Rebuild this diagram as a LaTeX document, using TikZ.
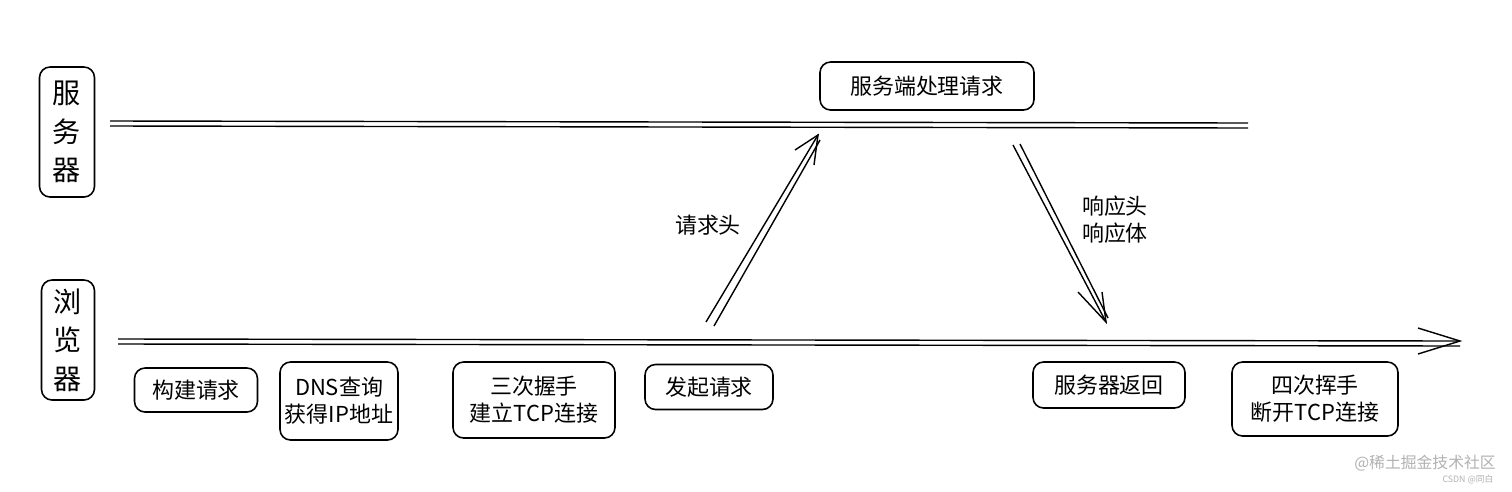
\documentclass[tikz,border=0pt]{standalone}
\usepackage{fontspec}
\setmainfont{Noto Sans CJK SC}
\usetikzlibrary{arrows.meta}
\begin{document}
\begin{tikzpicture}[x=0.02cm,y=-0.02cm,
  box/.style={draw,line width=0.9pt,rounded corners=6pt,align=center,inner sep=0pt,font=\fontsize{12.5}{15.5}\selectfont},
  lab/.style={align=left,font=\fontsize{12.5}{15.5}\selectfont},
  ln/.style={line width=0.8pt}]
\fill[white] (0,0) rectangle (1512,491);
\useasboundingbox (0,0) rectangle (1512,491);
% side boxes
\node[box,minimum width=55*0.02cm,minimum height=130*0.02cm,font=\fontsize{16}{22}\selectfont] (srv) at (67,132) {服\\务\\器};
\node[box,minimum width=53*0.02cm,minimum height=120*0.02cm,font=\fontsize{16}{22}\selectfont] (brw) at (68,340) {浏\\览\\器};
% timelines
\coordinate (s1) at (110,121); \coordinate (s2) at (1248,123);
\draw[ln] (s1) -- (s2);
\draw[ln] ([yshift=5*-0.02cm]s1) -- ([yshift=5*-0.02cm]s2);
\coordinate (b1) at (118,339); \coordinate (b2) at (1460,341);
\draw[ln] (b1) -- (b2);
\draw[ln] ([yshift=5*-0.02cm]b1) -- ([yshift=5*-0.02cm]b2);
\draw[ln] (1418,328) -- (b2) -- (1418,354);
% server box
\node[box,minimum width=214*0.02cm,minimum height=48*0.02cm] (proc) at (927,86) {服务端处理请求};
% request arrow
\coordinate (r1) at (706,322); \coordinate (r2) at (818,135);
\draw[ln] (r1) -- (r2); \draw[ln] (714,326) -- (820,140);
\draw[ln] (795,150) -- (r2) -- (814,165);
\node[lab] (rq) at (708,225) {请求头};
% response arrow
\coordinate (p1) at (1013,145); \coordinate (p2) at (1106,322);
\draw[ln] (p1) -- (p2); \draw[ln] (1020,144) -- (1108,318);
\draw[ln] (1078,292) -- (p2) -- (1102,292);
\node[lab] (rs) at (1115,220) {响应头\\响应体};
% bottom boxes
\node[box,minimum width=123*0.02cm,minimum height=44*0.02cm] (n1) at (196,390) {构建请求};
\node[box,minimum width=118*0.02cm,minimum height=78*0.02cm] (n2) at (339,401) {DNS查询\\获得IP地址};
\node[box,minimum width=162*0.02cm,minimum height=76*0.02cm] (n3) at (534,400) {三次握手\\建立TCP连接};
\node[box,minimum width=128*0.02cm,minimum height=45*0.02cm] (n4) at (709,387) {发起请求};
\node[box,minimum width=152*0.02cm,minimum height=46*0.02cm] (n5) at (1109,385) {服务器返回};
\node[box,minimum width=166*0.02cm,minimum height=74*0.02cm] (n6) at (1315,399) {四次挥手\\断开TCP连接};
% watermark
\node[text=gray!60,font=\fontsize{9}{10}\selectfont] (wm) at (1425,463) {@稀土掘金技术社区};
\node[text=gray!60,font=\fontsize{5}{6}\selectfont] (wm2) at (1468,480) {CSDN @同白};
\end{tikzpicture}
\end{document}
